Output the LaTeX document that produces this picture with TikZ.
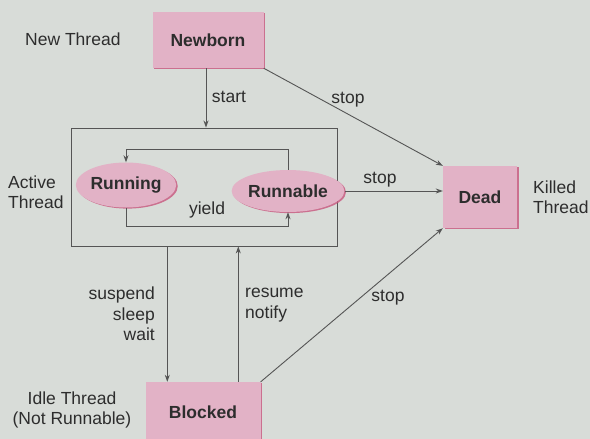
\documentclass[tikz,border=0pt]{standalone}
\usepackage{fontspec}
\setmainfont{Liberation Sans}
\usetikzlibrary{arrows.meta,shapes.geometric,shadows}
\definecolor{paper}{RGB}{216,220,216}
\definecolor{ink}{RGB}{45,45,45}
\definecolor{wire}{RGB}{85,85,85}
\definecolor{statefill}{RGB}{226,178,198}
\definecolor{stateedge}{RGB}{200,85,125}
\tikzset{
  txt/.style={text=ink, font=\fontsize{17.5}{20.5}\selectfont, inner sep=0pt},
  lbl/.style={txt, align=left},
  statebox/.style={rectangle, fill=statefill, draw=none, text=ink,
    font=\fontsize{17.5}{20.5}\selectfont\bfseries,
    copy shadow={shadow xshift=1.6pt, shadow yshift=-1.1pt, fill=stateedge, draw=none, opacity=0.8}},
  stateoval/.style={ellipse, fill=statefill, draw=none, text=ink, inner sep=0pt,
    font=\fontsize{17.5}{20.5}\selectfont\bfseries,
    copy shadow={shadow xshift=1.6pt, shadow yshift=-1.1pt, fill=stateedge, draw=none, opacity=0.8}},
  frame/.style={rectangle, draw=wire, line width=0.9pt},
  arr/.style={draw=wire, line width=0.9pt, -{Stealth[length=7pt,width=5pt]}},
}
\begin{document}
\begin{tikzpicture}[x=1pt,y=-1pt]
  \fill[paper] (0,0) rectangle (590,439);
  \useasboundingbox (0,0) rectangle (590,439);

  % states
  \node[statebox, minimum width=111pt, minimum height=56pt] (newborn) at (208,40) {Newborn};
  \node[statebox, minimum width=74pt, minimum height=62pt] (dead) at (480,197) {Dead};
  \node[statebox, minimum width=115pt, minimum height=60pt] (blocked) at (203,412) {Blocked};
  \node[frame, minimum width=266pt, minimum height=118pt] (active) at (204,187) {};
  \node[stateoval, minimum width=97pt, minimum height=45pt] (running) at (126,185) {Running};
  \node[stateoval, minimum width=91pt, minimum height=42pt] (runnable) at (288,191) {Runnable};

  % side captions
  \node[txt, anchor=west] (cnew) at (25,39) {New Thread};
  \node[lbl, anchor=west] (cactive) at (8,192) {Active\\Thread};
  \node[lbl, anchor=west] (ckilled) at (533,197) {Killed\\Thread};
  \node[txt, align=center] (cidle) at (72,410) {Idle Thread\\(Not Runnable)};

  % transitions
  \draw[arr] ([xshift=-2pt]newborn.south) -- ([xshift=-2pt]newborn.south |- active.north);
  \node[txt] (lstart) at (229,97) {start};
  \draw[arr] (newborn.south east) -- (dead.north west);
  \node[txt] (lstop1) at (348,100) {stop};
  \draw[arr] (runnable.east) -- (runnable.east -| dead.west);
  \node[txt] (lstop2) at (380,180) {stop};
  \draw[arr] (runnable.north) -- ++(0,-20) -| (running.north);
  \draw[arr] (running.south) -- ++(0,19) -| (runnable.south);
  \node[txt] (lyield) at (207,210) {yield};
  \draw[arr] ([xshift=22pt]blocked.north west |- active.south) -- ([xshift=22pt]blocked.north west);
  \draw[arr] ([xshift=93pt]blocked.north west) -- ([xshift=93pt]blocked.north west |- active.south);
  \node[txt, align=right, anchor=east] (lsusp) at (155,314) {suspend\\sleep\\wait};
  \node[txt, align=left, anchor=west] (lres) at (245,305) {resume\\notify};
  \draw[arr] (blocked.north east) -- (dead.south west);
  \node[txt] (lstop3) at (388,298) {stop};
\end{tikzpicture}
\end{document}
